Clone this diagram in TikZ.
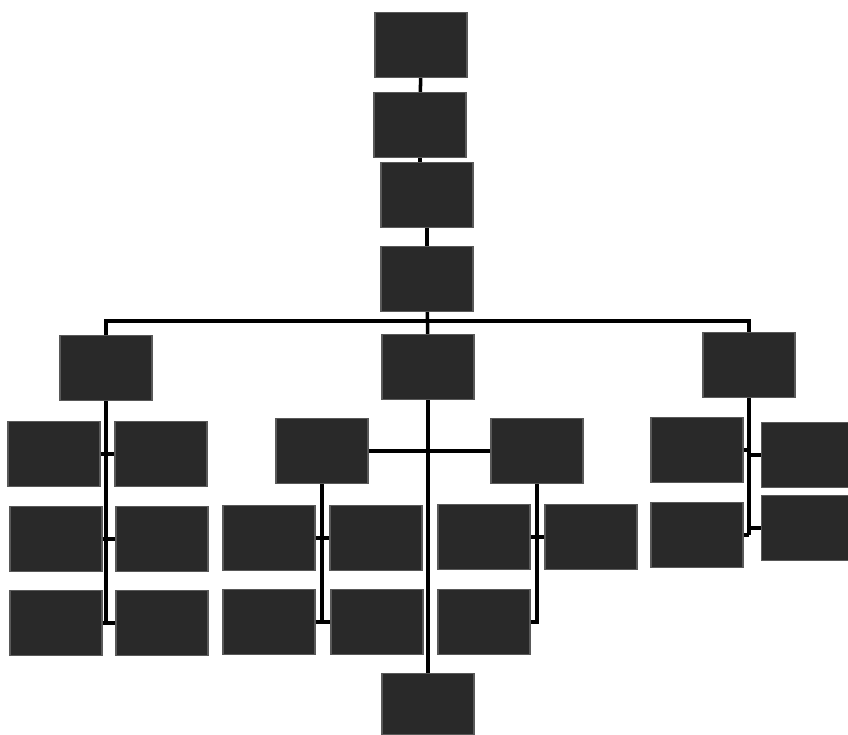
\documentclass[tikz,border=0pt]{standalone}
\usepackage{tikz}

\begin{document}
\begin{tikzpicture}[
  x=0.03cm, y=-0.03cm,
  box/.style={rectangle, draw=black!65, fill=black!84, line width=1pt,
              minimum width=2.76cm, minimum height=1.95cm, inner sep=0pt},
  link/.style={line width=3pt, black}
]
  \useasboundingbox[fill=white] (0,0) rectangle (848,735);
  \node[box] (chief)  at (421,45)  {};
  \node[box] (deputy) at (420,125) {};
  \node[box] (board)  at (427,195) {};
  \node[box] (office) at (427,279) {};
  \coordinate (bar) at (427,321);
  \node[box] (left)   at (106,368) {};
  \node[box] (mid)    at (428,367) {};
  \node[box] (right)  at (749,365) {};
  \node[box] (la1) at (54,454)  {};
  \node[box] (lb1) at (161,454) {};
  \node[box] (la2) at (56,539)  {};
  \node[box] (lb2) at (162,539) {};
  \node[box] (la3) at (56,623)  {};
  \node[box] (lb3) at (162,623) {};
  \node[box] (mleft)  at (322,451) {};
  \node[box] (mright) at (537,451) {};
  \node[box] (ma1) at (269,538) {};
  \node[box] (mb1) at (376,538) {};
  \node[box] (ma2) at (269,622) {};
  \node[box] (mb2) at (377,622) {};
  \node[box] (na1) at (484,537) {};
  \node[box] (nb1) at (591,537) {};
  \node[box] (na2) at (484,622) {};
  \node[box] (ra1) at (697,450) {};
  \node[box, minimum width=2.6cm] (rb1) at (805,455) {};
  \node[box] (ra2) at (697,535) {};
  \node[box, minimum width=2.6cm] (rb2) at (805,528) {};
  \node[box, minimum height=1.85cm] (base) at (428,704) {};
  \draw[link] (chief) -- (deputy);
  \draw[link] (deputy.south) -- (deputy.south |- board.north);
  \draw[link] (board) -- (office);
  \draw[link] (office) -- (mid);
  \draw[link] (left.north) |- (bar) -| (right.north);
  \draw[link] (mid) -- (base);
  \draw[link] (left.south) -- (left.south |- la3.east);
  \draw[link] (la1) -- (lb1);
  \draw[link] (la2) -- (lb2);
  \draw[link] (la3) -- (lb3);
  \draw[link] (mleft) -- (mright);
  \draw[link] (mleft.south) -- (mleft.south |- ma2.east);
  \draw[link] (ma1) -- (mb1);
  \draw[link] (ma2) -- (mb2);
  \draw[link] (mright.south) |- (na2.east);
  \draw[link] (na1) -- (nb1);
  \draw[link] (right.south) -- (right.south |- ra2.east);
  \draw[link] (ra1.east) -- (ra1.east -| right.south);
  \draw[link] (rb1.west) -- (rb1.west -| right.south);
  \draw[link] (ra2.east) -- (ra2.east -| right.south);
  \draw[link] (rb2.west) -- (rb2.west -| right.south);
\end{tikzpicture}
\end{document}
